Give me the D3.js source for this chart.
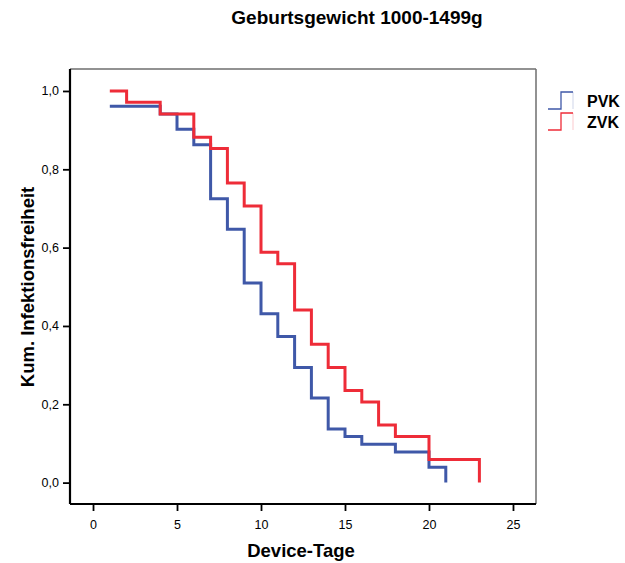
<!DOCTYPE html>
<html>
<head>
<meta charset="utf-8">
<script src="https://cdn.jsdelivr.net/npm/d3@7"></script>
<style>
  body { margin: 0; background: #fff; }
  text { font-family: Arial, "Liberation Sans", sans-serif; }
</style>
</head>
<body>
<svg id="chart" width="625" height="563"></svg>
<script>
// Daten: Kaplan-Meier Stufen (Tag, Wert nach dem Schritt)
var pvkTage  = [1, 4, 5, 6, 7, 8, 9, 10, 11, 12, 13, 14, 15, 16, 18, 20, 21];
var pvkWerte = [0.961, 0.941, 0.902, 0.863, 0.725, 0.647, 0.510, 0.431, 0.373, 0.294, 0.216, 0.137, 0.118, 0.098, 0.078, 0.039, 0];
var zvkTage  = [1, 2, 4, 6, 7, 8, 9, 10, 11, 12, 13, 14, 15, 16, 17, 18, 20, 23];
var zvkWerte = [1, 0.971, 0.941, 0.882, 0.853, 0.765, 0.706, 0.588, 0.559, 0.441, 0.353, 0.294, 0.235, 0.206, 0.147, 0.118, 0.059, 0];
var xTicks = [0, 5, 10, 15, 20, 25];
var yTicks = [0, 0.2, 0.4, 0.6, 0.8, 1.0];
var gruppen = ["PVK", "ZVK"];
var farben = ["#3f58a8", "#ee2c38"];

var svg = d3.select("#chart");
var links = 70, rechts = 536, oben = 69, unten = 504;

var x = d3.scaleLinear().domain([-1.37, 26.37]).range([links, rechts]);
var y = d3.scaleLinear().domain([-0.0546, 1.0561]).range([unten, oben]);

// Rahmen oben / rechts grau
svg.append("line").attr("x1", links).attr("x2", rechts).attr("y1", oben).attr("y2", oben)
  .attr("stroke", "#6e6e6e").attr("stroke-width", 1.5);
svg.append("line").attr("x1", rechts).attr("x2", rechts).attr("y1", oben).attr("y2", unten)
  .attr("stroke", "#6e6e6e").attr("stroke-width", 1.5);

function stufen(tage, werte){
  var pts = [[tage[0], werte[0]]];
  for(var i = 1; i < tage.length; i++){
    pts.push([tage[i], werte[i-1]]);
    pts.push([tage[i], werte[i]]);
  }
  return pts;
}
var linie = d3.line().x(function(d){ return x(d[0]); }).y(function(d){ return y(d[1]); });

svg.append("path").datum(stufen(pvkTage, pvkWerte))
  .attr("d", linie).attr("fill", "none").attr("stroke", farben[0]).attr("stroke-width", 3);
svg.append("path").datum(stufen(zvkTage, zvkWerte))
  .attr("d", linie).attr("fill", "none").attr("stroke", farben[1]).attr("stroke-width", 3);

// Achsen
var xAxis = svg.append("g").attr("transform", "translate(0," + unten + ")")
  .call(d3.axisBottom(x).tickValues(xTicks).tickSize(7).tickPadding(9).tickFormat(d3.format("d")));
var yAxis = svg.append("g").attr("transform", "translate(" + links + ",0)")
  .call(d3.axisLeft(y).tickValues(yTicks).tickSize(7).tickPadding(4)
    .tickFormat(function(d){ return d3.format(".1f")(d).replace(".", ","); }));
[xAxis, yAxis].forEach(function(g){
  g.select(".domain").attr("stroke", "#000").attr("stroke-width", 2.2);
  g.selectAll(".tick line").attr("stroke", "#000").attr("stroke-width", 1.8);
  g.selectAll(".tick text").attr("font-size", 12.5).attr("fill", "#000")
    .attr("font-family", "Arial, 'Liberation Sans', sans-serif");
});
xAxis.select(".domain").attr("d", "M" + links + ",0H" + rechts);
yAxis.select(".domain").attr("d", "M0," + oben + "V" + unten);

// Titel und Achsentitel
svg.append("text").attr("x", 357).attr("y", 24).attr("text-anchor", "middle")
  .attr("font-size", 19).attr("font-weight", "bold").text("Geburtsgewicht 1000-1499g");
svg.append("text").attr("x", 301).attr("y", 557).attr("text-anchor", "middle")
  .attr("font-size", 18.5).attr("font-weight", "bold").text("Device-Tage");
svg.append("text").attr("transform", "translate(34,287) rotate(-90)").attr("text-anchor", "middle")
  .attr("font-size", 18.5).attr("font-weight", "bold").text("Kum. Infektionsfreiheit");

// Legende
var leg = svg.append("g").attr("transform", "translate(548,92)");
gruppen.forEach(function(g, i){
  var oy = i * 21;
  leg.append("path").attr("d", "M0," + (oy + 17) + "H13V" + oy + "H25")
    .attr("fill", "none").attr("stroke", farben[i]).attr("stroke-width", 1.3);
  leg.append("line").attr("x1", 25).attr("x2", 25).attr("y1", oy).attr("y2", oy + 17)
    .attr("stroke", farben[i]).attr("stroke-opacity", 0.25).attr("stroke-width", 1);
  leg.append("text").attr("x", 39).attr("y", oy + 15).attr("font-size", 16)
    .attr("font-weight", "bold").text(g);
});
</script>
</body>
</html>
